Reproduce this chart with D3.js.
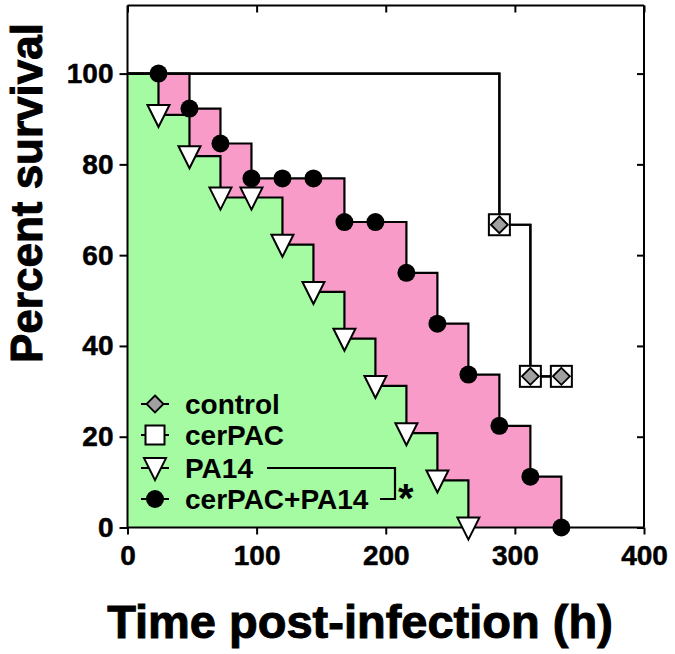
<!DOCTYPE html>
<html><head><meta charset="utf-8">
<script src="https://cdn.jsdelivr.net/npm/d3@7"></script>
<style>
body{margin:0;background:#fff;}
svg{display:block;font-family:"Liberation Sans",Arial,sans-serif;}
</style></head>
<body>
<svg id="c" width="675" height="654"></svg>
<script>
// ---- data ----
const xTicks = [0, 100, 200, 300, 400];
const yTicks = [0, 20, 40, 60, 80, 100];
const seriesNames = ["control", "cerPAC", "PA14", "cerPAC+PA14"];
const controlTimes = [288, 312, 336];
const controlValues = [66.7, 33.3, 33.3];
const cerPACTimes = [288, 312, 336];
const cerPACValues = [66.7, 33.3, 33.3];
const pa14Times = [24, 48, 72, 96, 120, 144, 168, 192, 216, 240, 264];
const pa14Values = [90.9, 81.8, 72.7, 72.7, 62.3, 51.9, 41.6, 31.2, 20.8, 10.4, 0];
const comboTimes = [24, 48, 72, 96, 120, 144, 168, 192, 216, 240, 264, 288, 312, 336];
const comboValues = [100, 92.3, 84.6, 76.9, 76.9, 76.9, 67.3, 67.3, 56.1, 44.9, 33.7, 22.4, 11.2, 0];
const startPoint = {t: 0, v: 100};

const svg = d3.select("#c");
const x = d3.scaleLinear().domain([0, 400]).range([127.5, 644]);
const y = d3.scaleLinear().domain([0, 115]).range([527.5, 5.5]);

const pts = (ts, vs) => [startPoint].concat(ts.map((t, i) => ({t, v: vs[i]})));
const markPts = (ts, vs) => ts.map((t, i) => ({t, v: vs[i]}));

const line = d3.line().x(d => x(d.t)).y(d => y(d.v)).curve(d3.curveStepAfter);
const area = d3.area().x(d => x(d.t)).y0(y(0)).y1(d => y(d.v)).curve(d3.curveStepAfter);

const green = "#a4fba1", pink = "#f99bc9";

// fills
svg.append("path").datum(pts(comboTimes, comboValues)).attr("d", area).attr("fill", pink);
svg.append("path").datum(pts(pa14Times, pa14Values)).attr("d", area).attr("fill", green);

// frame (top & right with inward ticks)
const g = svg.append("g");
g.append("g").attr("transform", `translate(0,${y(115)})`)
  .call(d3.axisTop(x).tickValues(xTicks).tickSize(-7).tickFormat(""))
  .call(s => s.selectAll("line,path").attr("stroke", "#000").attr("stroke-width", 2))
  .call(s => s.select(".domain").attr("d", `M${x(0)},0H${x(400)}`));
g.append("g").attr("transform", `translate(${x(400)},0)`)
  .call(d3.axisRight(y).tickValues(yTicks).tickSize(-7).tickFormat(""))
  .call(s => s.selectAll("line,path").attr("stroke", "#000").attr("stroke-width", 2))
  .call(s => s.select(".domain").attr("d", `M0,${y(0)}V${y(115)}`));

// step lines
const stroke = s => s.attr("fill", "none").attr("stroke", "#000").attr("stroke-width", 2.2);
svg.append("path").datum(pts(cerPACTimes, cerPACValues)).attr("d", line).call(stroke);
svg.append("path").datum(pts(controlTimes, controlValues)).attr("d", line).call(stroke);
svg.append("path").datum(pts(pa14Times, pa14Values)).attr("d", line).call(stroke);
svg.append("path").datum(pts(comboTimes, comboValues)).attr("d", line).call(stroke);

// bottom & left axes
const xa = svg.append("g").attr("transform", `translate(0,${y(0)})`)
  .call(d3.axisBottom(x).tickValues(xTicks).tickSize(7).tickPadding(11).tickFormat(d3.format("d")));
xa.select(".domain").attr("d", `M${x(0)},0H${x(400)}`);
const ya = svg.append("g").attr("transform", `translate(${x(0)},0)`)
  .call(d3.axisLeft(y).tickValues(yTicks).tickSize(8).tickPadding(6).tickFormat(d3.format("d")));
ya.select(".domain").attr("d", `M0,${y(0)}V${y(115)}`);
[xa, ya].forEach(a => {
  a.selectAll("line,path").attr("stroke", "#000").attr("stroke-width", 2);
  a.selectAll("text").attr("font-size", 28).attr("font-weight", "bold")
    .attr("font-family", "'Liberation Sans',Arial,sans-serif").attr("fill", "#000")
    .attr("stroke", "#000").attr("stroke-width", 0.5);
});
xa.selectAll("text").attr("dy", "0.71em");

// marker symbols
const sym = {
  square: (sel, s) => sel.append("rect").attr("x", -s/2).attr("y", -s/2).attr("width", s).attr("height", s)
      .attr("fill", "#fff").attr("stroke", "#000").attr("stroke-width", 2),
  diamond: (sel, s) => sel.append("path").attr("d", `M0,${-s/2}L${s/2},0L0,${s/2}L${-s/2},0Z`)
      .attr("fill", "#a0a0a0").attr("stroke", "#000").attr("stroke-width", 1.8),
  tri: (sel, s) => sel.append("path").attr("d", `M${-s/2},${-s*0.45}L${s/2},${-s*0.45}L0,${s*0.55}Z`)
      .attr("fill", "#fff").attr("stroke", "#000").attr("stroke-width", 2),
  circle: (sel, s) => sel.append("circle").attr("r", s/2).attr("fill", "#000")
};

function drawMarks(ts, vs, fn, s) {
  svg.append("g").selectAll("g").data(markPts(ts, vs)).join("g")
    .attr("transform", d => `translate(${x(d.t)},${y(d.v)})`)
    .each(function() { sym[fn](d3.select(this), s); });
}
drawMarks(cerPACTimes, cerPACValues, "square", 21);
drawMarks(controlTimes, controlValues, "diamond", 17);
drawMarks(pa14Times, pa14Values, "tri", 22);
drawMarks(comboTimes, comboValues, "circle", 18);

// legend
const legY = [404, 435, 468, 499];
const legSyms = [["diamond", 17], ["square", 19], ["tri", 22], ["circle", 18]];
seriesNames.forEach((n, i) => {
  const lg = svg.append("g").attr("transform", `translate(155,${legY[i]})`);
  lg.append("line").attr("x1", -14).attr("x2", 14).attr("stroke", "#000").attr("stroke-width", 2);
  sym[legSyms[i][0]](lg, legSyms[i][1]);
  svg.append("text").attr("x", 185).attr("y", legY[i]).attr("dy", "0.36em")
    .attr("font-size", 28).attr("font-weight", "bold").text(n);
});
// significance bracket
svg.append("path").attr("d", `M267,468H395V499H380`).attr("fill", "none")
  .attr("stroke", "#000").attr("stroke-width", 2.2);
svg.append("text").attr("x", 398).attr("y", 512).attr("font-size", 40).attr("font-weight", "bold").text("*");

// axis titles
svg.append("text").attr("x", 360).attr("y", 638).attr("text-anchor", "middle")
  .attr("font-size", 47).attr("font-weight", "bold").attr("stroke", "#000").attr("stroke-width", 1)
  .text("Time post-infection (h)");
svg.append("text").attr("transform", "translate(42,193) rotate(-90)").attr("text-anchor", "middle")
  .attr("font-size", 44).attr("font-weight", "bold").attr("stroke", "#000").attr("stroke-width", 1)
  .text("Percent survival");
</script>
</body></html>
